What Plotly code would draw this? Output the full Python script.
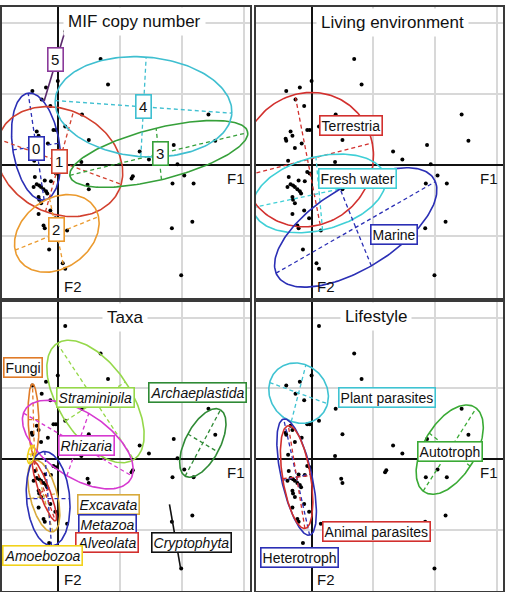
import numpy as np
import plotly.graph_objects as go

# ---------------- data: observation scores on F1 / F2 (same in every panel) ----------------
pts_f1 = [0.12, 0.69, 0.81, 0.00, -0.19, -0.41, -0.26, -0.12, 0.39, 2.43,
          -0.07, -0.03, 0.12, -0.34, -0.31, -0.42, -0.41, -0.16, -0.27, 0.50,
          2.54, 1.87, 1.32, 1.47, 0.38, -0.38, 1.93, -0.07, -0.03, 2.04,
          1.21, 1.19, -0.37, -0.21, -0.11, 1.85, 2.19, 0.48, 0.50, -0.34,
          -0.30, -0.39, -0.27, -0.23, -0.19, -0.17, -0.31, -0.30, -0.27, -0.12,
          -0.31, -0.04, 2.17, -0.23, -0.21, 1.84, 0.15, -0.14, 0.08, 0.12, 1.99]
pts_f2 = [1.88, 1.49, 1.13, 1.18, 1.09, 1.04, 0.92, 0.83, 0.71, 0.71,
          0.49, 0.49, 0.54, 0.47, 0.41, 0.37, 0.34, 0.30, 0.24, 0.35,
          0.34, 0.28, 0.19, 0.075, 0.04, 0.06, 0.01, -0.10, -0.12, -0.15,
          -0.16, -0.19, -0.17, -0.22, -0.23, -0.26, -0.26, -0.28, -0.34, -0.27,
          -0.29, -0.31, -0.31, -0.34, -0.37, -0.40, -0.45, -0.49, -0.54, -0.64,
          -0.69, -0.75, -0.80, -0.85, -0.89, -0.89, -0.92, -1.19, -1.38, -1.46, -1.55]

panel_titles = ["MIF copy number", "Living environment", "Taxa", "Lifestyle"]
title_x = [1.24, 1.31, 1.09, 1.05]
title_y = [2.02, 2.00, 2.00, 2.01]

# ---------------- group ellipses: centre, semi-axis vectors u and v ----------------
mif_names = ["0", "1", "2", "3", "4"]
mif_colors = ["#2b2fb5", "#d2402e", "#eb9a2e", "#36a03a", "#3fbfd0"]
mif_cx = [-0.349, 0.027, -0.016, 1.629, 1.382]
mif_cy = [0.258, 0.047, -0.962, 0.155, 0.817]
mif_ux = [-0.129, 0.995, 0.672, 1.435, 1.425]
mif_uy = [0.751, -0.319, 0.235, 0.300, -0.089]
mif_vx = [0.376, 0.226, 0.118, -0.043, 0.043]
mif_vy = [0.047, 0.704, -0.493, 0.362, 0.700]
mif_lx = [-0.349, 0.027, -0.016, 1.656, 1.382]
mif_ly = [0.235, 0.047, -0.906, 0.164, 0.817]
mif_seg_name = ["5"]
mif_seg_color = ["#5a2a6b"]
mif_seg_x = [[-0.22, 0.14]]
mif_seg_y = [[0.90, 1.95]]
mif_seg_lx = [-0.04]
mif_seg_ly = [1.48]

env_names = ["Terrestria", "Fresh water", "Marine"]
env_colors = ["#d2302e", "#3fcfd6", "#2b2fb5"]
env_cx = [-0.065, 0.124, 0.715]
env_cy = [0.075, -0.40, -0.878]
env_ux = [1.048, 1.075, 1.29]
env_uy = [0.235, 0.20, 0.643]
env_vx = [-0.204, -0.054, -0.253]
env_vy = [0.915, 0.516, 0.54]
env_lx = [0.634, 0.747, 1.333]
env_ly = [0.554, -0.19, -0.98]

tax_names = ["Straminipila", "Fungi", "Rhizaria", "Archaeplastida", "Excavata",
             "Metazoa", "Alveolata", "Amoebozoa"]
tax_italic = [True, False, True, True, True, True, True, True]
tax_colors = ["#95d84a", "#e07b28", "#d63ad0", "#2f8a35", "#d8aa3c",
              "#2b2fb5", "#d2302e", "#f2d21b"]
tax_cx = [0.608, -0.392, 0.323, 2.339, -0.226, -0.156, -0.215, -0.43]
tax_cy = [0.812, 0.554, 0.202, 0.225, -0.526, -0.563, -0.455, 0.061]
tax_ux = [0.618, -0.016, 0.876, 0.285, -0.145, -0.054, 0.177, 0.027]
tax_uy = [-0.822, 0.507, -0.446, 0.469, 0.507, 0.667, -0.423, 0.131]
tax_vx = [0.484, 0.086, 0.177, 0.242, 0.215, 0.349, 0.081, 0.054]
tax_vy = [0.277, 0.0, 0.441, -0.127, 0.038, 0.0, 0.023, -0.009]
tax_lx = [0.61, -0.565, 0.457, 2.26, 0.81, 0.80, 0.79, -0.25]
tax_ly = [0.87, 1.30, 0.188, 0.94, -0.65, -0.93, -1.19, -1.37]
tax_seg_name = ["Cryptophyta"]
tax_seg_color = ["#111111"]
tax_seg_x = [[1.801, 1.978]]
tax_seg_y = [[-0.643, -1.535]]
tax_seg_lx = [2.15]
tax_seg_ly = [-1.18]

life_names = ["Plant parasites", "Autotroph", "Heterotroph", "Animal parasites"]
life_colors = ["#3fc3d2", "#3aaa35", "#2b2fb5", "#d2302e"]
life_cx = [-0.21, 2.237, -0.242, -0.242]
life_cy = [0.93, 0.131, -0.258, -0.258]
life_ux = [0.468, 0.43, -0.21, -0.134]
life_uy = [-0.150, 0.587, 0.822, 0.728]
life_vx = [0.118, -0.333, 0.242, 0.226]
life_vy = [0.40, 0.235, 0.047, 0.023]
life_lx = [1.22, 2.24, -0.20, 1.05]
life_ly = [0.873, 0.10, -1.40, -1.03]

X_RANGE = [-0.9, 3.1]
Y_RANGE = [-1.87, 2.22]

W, H = 507, 592
FONT = "Liberation Sans Narrow, Arial Narrow, Liberation Sans, Arial, sans-serif"

fig = go.Figure()

axis_ids = ["", "2", "3", "4"]
x_domains = [[2 / W, 250 / W], [256 / W, 503 / W], [2 / W, 250 / W], [256 / W, 503 / W]]
y_domains = [[1 - 298 / H, 1 - 7 / H], [1 - 298 / H, 1 - 7 / H],
             [1 - 591 / H, 1 - 302 / H], [1 - 591 / H, 1 - 302 / H]]

t = np.linspace(0, 2 * np.pi, 181)


def add_group(k, cx, cy, ux, uy, vx, vy, color):
    xa, ya = "x" + axis_ids[k], "y" + axis_ids[k]
    ex = cx + ux * np.cos(t) + vx * np.sin(t)
    ey = cy + uy * np.cos(t) + vy * np.sin(t)
    fig.add_trace(go.Scatter(x=ex, y=ey, mode="lines", xaxis=xa, yaxis=ya,
                             line=dict(color=color, width=1.6), hoverinfo="skip",
                             showlegend=False))
    for ax_x, ax_y in ((ux, uy), (vx, vy)):
        fig.add_trace(go.Scatter(x=[cx - ax_x, cx + ax_x], y=[cy - ax_y, cy + ax_y],
                                 mode="lines", xaxis=xa, yaxis=ya,
                                 line=dict(color=color, width=1.3, dash="4px,3px"),
                                 hoverinfo="skip", showlegend=False))


def add_label(k, x, y, text, color, size=14, pad=1):
    fig.add_annotation(x=x, y=y, xref="x" + axis_ids[k], yref="y" + axis_ids[k],
                       text=text, showarrow=False, bgcolor="white",
                       bordercolor=color, borderwidth=1.6, borderpad=pad,
                       font=dict(family=FONT, size=size, color="#111"))


panels = [
    (mif_names, mif_colors, mif_cx, mif_cy, mif_ux, mif_uy, mif_vx, mif_vy, mif_lx, mif_ly, None),
    (env_names, env_colors, env_cx, env_cy, env_ux, env_uy, env_vx, env_vy, env_lx, env_ly, None),
    (tax_names, tax_colors, tax_cx, tax_cy, tax_ux, tax_uy, tax_vx, tax_vy, tax_lx, tax_ly, tax_italic),
    (life_names, life_colors, life_cx, life_cy, life_ux, life_uy, life_vx, life_vy, life_lx, life_ly, None),
]

for k in range(4):
    xa, ya = "x" + axis_ids[k], "y" + axis_ids[k]
    fig.add_trace(go.Scatter(x=pts_f1, y=pts_f2, mode="markers", xaxis=xa, yaxis=ya,
                             marker=dict(color="black", size=4), hoverinfo="skip",
                             showlegend=False))
    names, colors, cx, cy, ux, uy, vx, vy, lx, ly, ital = panels[k]
    for i in range(len(names)):
        add_group(k, cx[i], cy[i], ux[i], uy[i], vx[i], vy[i], colors[i])

# two-member groups are drawn as a segment
for k, segs in ((0, (mif_seg_name, mif_seg_color, mif_seg_x, mif_seg_y)),
                (2, (tax_seg_name, tax_seg_color, tax_seg_x, tax_seg_y))):
    nm, col, sx, sy = segs
    for i in range(len(nm)):
        fig.add_trace(go.Scatter(x=sx[i], y=sy[i], mode="lines",
                                 xaxis="x" + axis_ids[k], yaxis="y" + axis_ids[k],
                                 line=dict(color=col[i], width=1.6), hoverinfo="skip",
                                 showlegend=False))

# labels
for k in range(4):
    names, colors, cx, cy, ux, uy, vx, vy, lx, ly, ital = panels[k]
    for i in range(len(names)):
        txt = f"<i>{names[i]}</i>" if (ital is not None and ital[i]) else names[i]
        if k == 0:
            add_label(k, lx[i], ly[i], txt, colors[i], size=15, pad=2.5)
        else:
            add_label(k, lx[i], ly[i], txt, colors[i])
add_label(0, mif_seg_lx[0], mif_seg_ly[0], mif_seg_name[0], "#8a3a9a", size=15, pad=2.5)
add_label(2, tax_seg_lx[0], tax_seg_ly[0], "<i>" + tax_seg_name[0] + "</i>", "#111111")

# titles and axis names
for k in range(4):
    xr, yr = "x" + axis_ids[k], "y" + axis_ids[k]
    fig.add_annotation(x=title_x[k], y=title_y[k], xref=xr, yref=yr, text=panel_titles[k],
                       showarrow=False, bgcolor="white", borderpad=4,
                       font=dict(family=FONT, size=17, color="#111"))
    fig.add_annotation(x=2.88, y=-0.19, xref=xr, yref=yr, text="F1", showarrow=False,
                       font=dict(family=FONT, size=15, color="#111"))
    fig.add_annotation(x=0.24, y=-1.71, xref=xr, yref=yr, text="F2", showarrow=False,
                       font=dict(family=FONT, size=15, color="#111"))

layout = dict(width=W, height=H, margin=dict(l=0, r=0, t=0, b=0),
              paper_bgcolor="white", plot_bgcolor="white", showlegend=False)
for k in range(4):
    common = dict(showline=True, mirror=True, linecolor="#3a3a3a", linewidth=2,
                  showgrid=True, gridcolor="#d8d8d8", gridwidth=1.5,
                  zeroline=True, zerolinecolor="#111", zerolinewidth=1.5,
                  showticklabels=False, ticks="", dtick=1, tick0=0, fixedrange=True)
    layout["xaxis" + axis_ids[k]] = dict(domain=x_domains[k], range=X_RANGE,
                                         anchor="y" + axis_ids[k], **common)
    layout["yaxis" + axis_ids[k]] = dict(domain=y_domains[k], range=Y_RANGE,
                                         anchor="x" + axis_ids[k], **common)
fig.update_layout(**layout)

fig.write_html("out.html")
